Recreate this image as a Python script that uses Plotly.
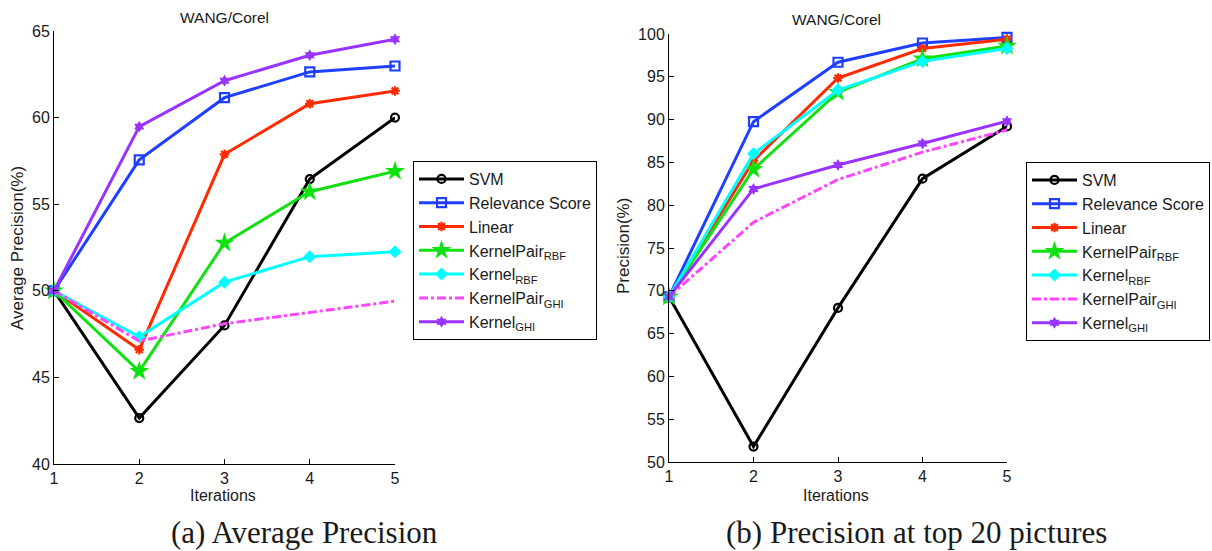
import plotly.graph_objects as go

iterations = [1, 2, 3, 4, 5]
names = ["SVM", "Relevance Score", "Linear", "KernelPair<sub>RBF</sub>",
         "Kernel<sub>RBF</sub>", "KernelPair<sub>GHI</sub>", "Kernel<sub>GHI</sub>"]

# (a) Average Precision
ap_svm = [50.0, 42.65, 48.0, 56.45, 60.0]
ap_rel = [50.0, 57.56, 61.15, 62.64, 62.98]
ap_lin = [50.0, 46.6, 57.88, 60.8, 61.54]
ap_kp_rbf = [50.0, 45.35, 52.76, 55.72, 56.9]
ap_k_rbf = [50.0, 47.35, 50.5, 51.97, 52.25]
ap_kp_ghi = [50.0, 47.1, 48.1, 48.75, 49.4]
ap_k_ghi = [50.0, 59.48, 62.13, 63.6, 64.52]

# (b) Precision at top 20
p_svm = [69.3, 51.8, 68.0, 83.1, 89.2]
p_rel = [69.3, 89.76, 96.7, 98.95, 99.6]
p_lin = [69.3, 85.2, 94.86, 98.3, 99.4]
p_kp_rbf = [69.3, 84.2, 93.2, 97.1, 98.6]
p_k_rbf = [69.3, 86.0, 93.45, 96.8, 98.3]
p_kp_ghi = [69.3, 78.0, 83.0, 86.2, 88.8]
p_k_ghi = [69.3, 81.9, 84.7, 87.2, 89.8]

left_series = [ap_svm, ap_rel, ap_lin, ap_kp_rbf, ap_k_rbf, ap_kp_ghi, ap_k_ghi]
right_series = [p_svm, p_rel, p_lin, p_kp_rbf, p_k_rbf, p_kp_ghi, p_k_ghi]

colors = ["#000000", "#1F3FFF", "#FF2A00", "#11E011", "#00FFFF", "#FF44FF", "#9933FF"]
symbols = ["circle-open", "square-open", "asterisk-open", "star", "diamond", None, "hexagram"]
sizes = [8, 9, 8, 15, 10, 0, 9]
dashes = ["solid", "solid", "solid", "solid", "solid", "dashdot", "solid"]

FONT = "Liberation Sans, Arial, sans-serif"
TXT = "#1a1a1a"
fig = go.Figure()

for series, xa, ya, lg in [(left_series, "x", "y", "legend"),
                           (right_series, "x2", "y2", "legend2")]:
    for i, vals in enumerate(series):
        marker = dict(color=colors[i], size=sizes[i])
        mode = "lines+markers"
        if symbols[i] is None:
            mode = "lines"
        else:
            marker["symbol"] = symbols[i]
            if symbols[i].endswith("open"):
                marker["line"] = dict(color=colors[i], width=2.2)
        fig.add_trace(go.Scatter(
            x=iterations, y=vals, name=names[i], mode=mode,
            line=dict(color=colors[i], width=3, dash=dashes[i]),
            marker=marker, xaxis=xa, yaxis=ya, legend=lg, cliponaxis=False))

axis_common = dict(showline=True, linecolor="#000000", linewidth=1, ticks="inside",
                   ticklen=5, tickcolor="#000000", showgrid=False, zeroline=False,
                   tickfont=dict(family=FONT, size=16, color=TXT))

legend_common = dict(xanchor="left", yanchor="top", bordercolor="#000000", borderwidth=1,
                     bgcolor="white", font=dict(family=FONT, size=16, color=TXT),
                     itemwidth=45, tracegroupgap=0)

fig.update_layout(
    width=1212, height=551,
    margin=dict(l=0, r=0, t=0, b=0, autoexpand=False),
    paper_bgcolor="white", plot_bgcolor="white",
    font=dict(family=FONT, color=TXT),
    xaxis=dict(domain=[54/1212, 395/1212], range=[1, 5], tickvals=iterations,
               anchor="y", **axis_common),
    yaxis=dict(domain=[1-464/551, 1-31/551], range=[40, 65], dtick=5,
               anchor="x", **axis_common),
    xaxis2=dict(domain=[669/1212, 1007/1212], range=[1, 5], tickvals=iterations,
                anchor="y2", **axis_common),
    yaxis2=dict(domain=[1-462/551, 1-34/551], range=[50, 100], dtick=5,
                anchor="x2", **axis_common),
    legend=dict(x=413/1212, y=1-161/551, **legend_common),
    legend2=dict(x=1026/1212, y=1-162/551, **legend_common),
)

ann = [
    dict(text="WANG/Corel", x=224/1212, y=1-17/551, size=15.5, angle=0),
    dict(text="WANG/Corel", x=837/1212, y=1-20/551, size=15.5, angle=0),
    dict(text="Iterations", x=223/1212, y=1-495/551, size=16, angle=0),
    dict(text="Iterations", x=836/1212, y=1-495/551, size=16, angle=0),
    dict(text="Average Precision(%)", x=17/1212, y=1-248/551, size=17, angle=-90),
    dict(text="Precision(%)", x=623/1212, y=1-246/551, size=17, angle=-90),
]
for a in ann:
    fig.add_annotation(text=a["text"], x=a["x"], y=a["y"], xref="paper", yref="paper",
                       showarrow=False, textangle=a["angle"], xanchor="center",
                       yanchor="middle", font=dict(family=FONT, size=a["size"], color=TXT))

for text, xc in [("(a) Average Precision", 304/1212), ("(b) Precision at top 20 pictures", 916/1212)]:
    fig.add_annotation(text=text, x=xc, y=1-532/551, xref="paper", yref="paper",
                       showarrow=False, xanchor="center", yanchor="middle",
                       font=dict(family="Liberation Serif, DejaVu Serif, serif", size=31,
                                 color=TXT))

fig.write_html("out.html")
